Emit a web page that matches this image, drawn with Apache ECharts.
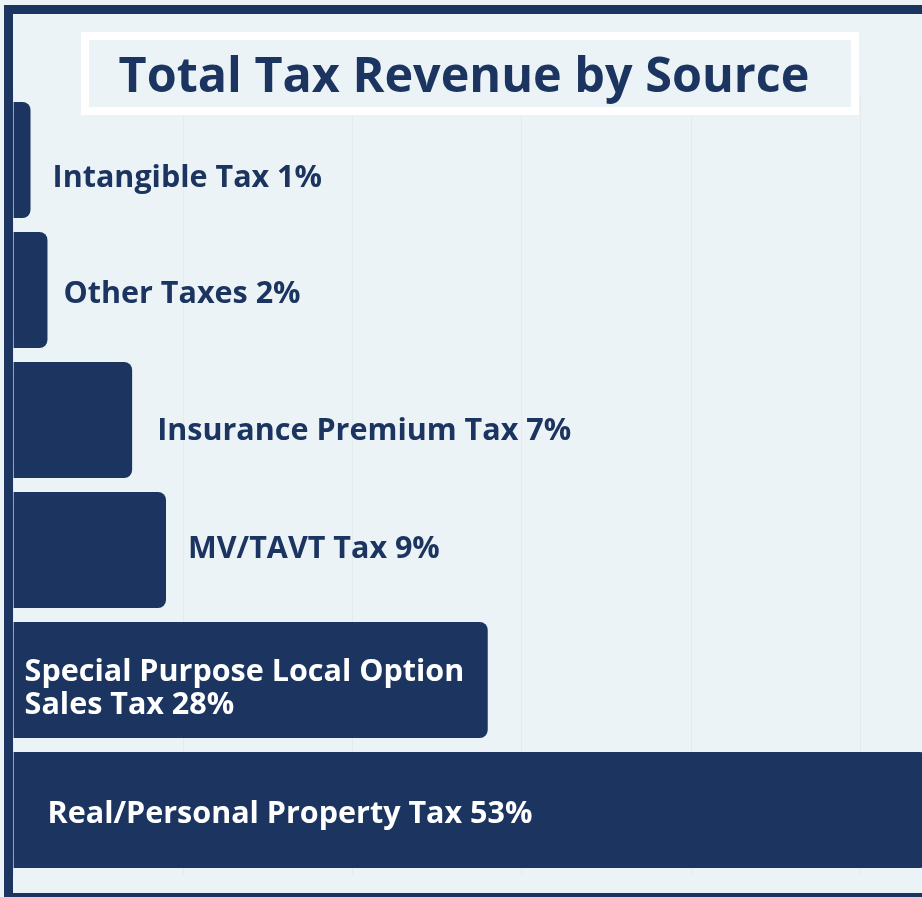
<!DOCTYPE html>
<html>
<head>
<meta charset="utf-8">
<script src="https://cdn.jsdelivr.net/npm/echarts@6/dist/echarts.min.js"></script>
<style>
html,body{margin:0;padding:0;background:#ebf3f6;overflow:hidden;width:922px;height:897px;}
#c{width:1100px;height:897px;}
</style>
</head>
<body>
<div id="c"></div>
<script>
// Data
const categories = ['Intangible Tax', 'Other Taxes', 'Insurance Premium Tax', 'MV/TAVT Tax', 'Special Purpose Local Option\nSales Tax', 'Real/Personal Property Tax'];
const barValues = [1, 2, 7, 9, 28, 54];          // bar lengths as drawn (%)
const shareLabels = ['1%', '2%', '7%', '9%', '28%', '53%']; // printed shares
const axisTicks = [0, 10, 20, 30, 40, 50, 60];

const NAVY = '#1b3560';
const BG = '#ebf3f6';
const FONT = '"Open Sans"';

// per-bar label placement (outside for small bars, inside for large)
const labelStyles = [
  { position: 'right', distance: 22, offset: [0, 18], color: NAVY },
  { position: 'right', distance: 16, offset: [0, 4], color: NAVY },
  { position: 'right', distance: 25, offset: [0, 11], color: NAVY },
  { position: 'right', distance: 22, offset: [0, -1], color: NAVY },
  { position: 'insideLeft', distance: 11, offset: [0, 9], color: '#ffffff' },
  { position: 'insideLeft', distance: 34, offset: [0, 4], color: '#ffffff' }
];

const chart = echarts.init(document.getElementById('c'), null, { renderer: 'canvas' });

const data = barValues.map((v, i) => ({
  value: v,
  label: Object.assign({
    show: true,
    fontFamily: FONT,
    fontWeight: 'bold',
    fontSize: 30.5,
    lineHeight: 33,
    align: 'left',
    formatter: () => categories[i] + ' ' + shareLabels[i]
  }, labelStyles[i])
}));

chart.setOption({
  backgroundColor: BG,
  animation: false,
  grid: { left: 13.6, top: 95, width: 1016, height: 780 },
  xAxis: {
    type: 'value',
    min: axisTicks[0],
    max: axisTicks[axisTicks.length - 1],
    interval: 10,
    axisLine: { show: false },
    axisTick: { show: false },
    axisLabel: { show: false },
    splitLine: { show: true, lineStyle: { color: '#e2ebee', width: 1 } }
  },
  yAxis: {
    type: 'category',
    inverse: true,
    data: categories,
    axisLine: { show: false },
    axisTick: { show: false },
    axisLabel: { show: false },
    splitLine: { show: false }
  },
  series: [{
    type: 'bar',
    data: data,
    barWidth: 116,
    itemStyle: { color: NAVY, borderRadius: [0, 8, 8, 0] },
    z: 2
  }],
  graphic: [
    // title box
    { type: 'rect', shape: { x: 85, y: 36, width: 770, height: 75 },
      style: { fill: BG, stroke: '#ffffff', lineWidth: 8 }, z: 10 },
    { type: 'text', x: 464, y: 78, z: 11,
      style: { text: 'Total Tax Revenue by Source', fill: NAVY, font: 'bold 48.5px ' + FONT,
               textAlign: 'center', textVerticalAlign: 'middle' } },
    // frame
    { type: 'rect', shape: { x: 4, y: 5, width: 1100, height: 9 }, style: { fill: NAVY }, z: 12 },
    { type: 'rect', shape: { x: 4, y: 5, width: 9, height: 892 }, style: { fill: NAVY }, z: 12 },
    { type: 'rect', shape: { x: 4, y: 893, width: 1100, height: 4 }, style: { fill: NAVY }, z: 12 }
  ]
});
</script>
</body>
</html>
